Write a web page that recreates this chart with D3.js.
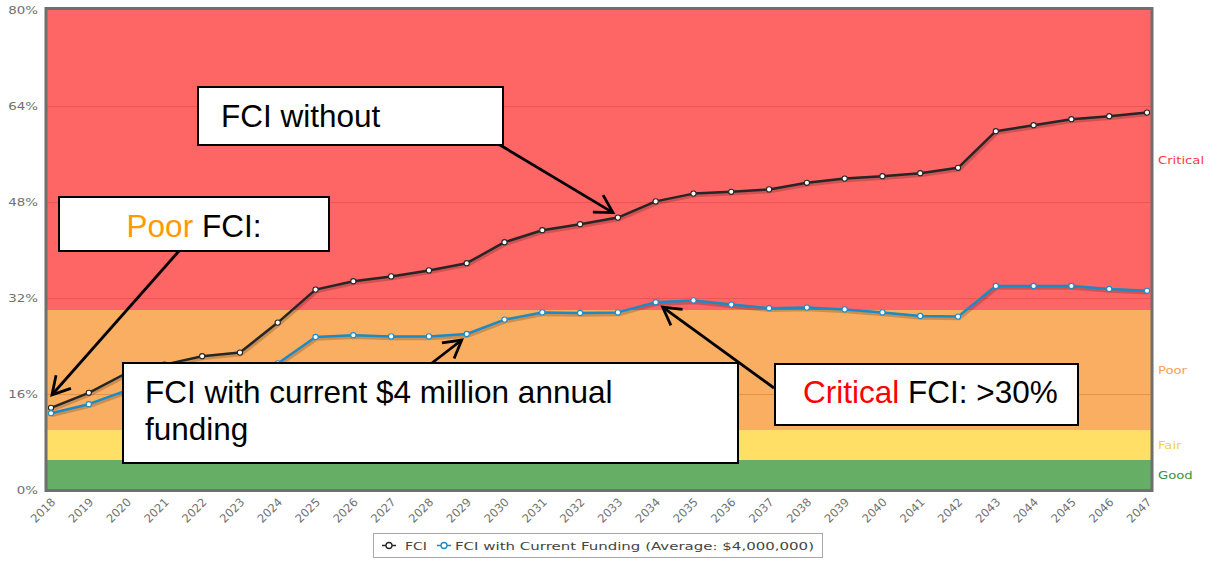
<!DOCTYPE html>
<html>
<head>
<meta charset="utf-8">
<script src="https://cdn.jsdelivr.net/npm/d3@7"></script>
<style>
  body { margin: 0; background: #fff; }
  svg { display: block; }
</style>
</head>
<body>
<div id="chart"></div>
<script>
// categories and values (in %)
const years = ["2018", "2019", "2020", "2021", "2022", "2023", "2024", "2025", "2026", "2027",
  "2028", "2029", "2030", "2031", "2032", "2033", "2034", "2035", "2036", "2037",
  "2038", "2039", "2040", "2041", "2042", "2043", "2044", "2045", "2046", "2047"];
const fci = [13.7, 16.2, 19.5, 20.9, 22.3, 22.9, 27.9, 33.4, 34.8, 35.6,
  36.6, 37.8, 41.3, 43.3, 44.3, 45.4, 48.1, 49.4, 49.7, 50.1,
  51.2, 51.9, 52.3, 52.8, 53.7, 59.8, 60.8, 61.8, 62.3, 62.9];
const fciFunded = [12.8, 14.3, 16.6, 18.2, 19.3, 20.3, 21.1, 25.5, 25.8, 25.6,
  25.6, 26.0, 28.4, 29.6, 29.5, 29.6, 31.3, 31.6, 30.9, 30.3,
  30.4, 30.1, 29.6, 29.0, 28.9, 34.0, 34.0, 34.0, 33.5, 33.2];
const yTicks = [0, 16, 32, 48, 64, 80];
const gridTicks = [16, 32, 48, 64];

const bandNames = ["Good", "Fair", "Poor", "Critical"];
const bandFrom = [0, 5, 10, 30];
const bandTo = [5, 10, 30, 80];
const bandFill = ["#66ad66", "#ffdf66", "#f9ae62", "#fe6565"];
const bandLabelColor = ["#3f8d3f", "#f6cf48", "#fb9c5c", "#f63a46"];

const seriesNames = ["FCI", "FCI with Current Funding (Average: $4,000,000)"];
const seriesColors = ["#262626", "#1b8bc6"];
const seriesData = [fci, fciFunded];

const w = 1211;
const h = 563;
const plot = { left: 47, right: 1151, top: 9, bottom: 490 };

const xScale = d3.scalePoint().domain(years).range([51, 1147]);
const yScale = d3.scaleLinear().domain([0, 80]).range([490, 10]);

const svg = d3.select("#chart").append("svg").attr("width", w).attr("height", h);

// coloured condition bands
svg.append("g").selectAll("rect")
  .data(bandNames)
  .enter()
  .append("rect")
  .attr("x", plot.left)
  .attr("width", plot.right - plot.left)
  .attr("y", (d, i) => yScale(bandTo[i]))
  .attr("height", (d, i) => yScale(bandFrom[i]) - yScale(bandTo[i]))
  .attr("fill", (d, i) => bandFill[i]);

// grid
svg.append("g").selectAll("line")
  .data(gridTicks)
  .enter()
  .append("line")
  .attr("x1", plot.left)
  .attr("x2", plot.right)
  .attr("y1", (d) => Math.round(yScale(d)) + 0.5)
  .attr("y2", (d) => Math.round(yScale(d)) + 0.5)
  .attr("stroke", "rgba(170,40,10,0.22)")
  .attr("stroke-width", 1);

// series lines
const line = d3.line()
  .x((d, i) => xScale(years[i]))
  .y((d) => yScale(d));

seriesData.forEach(function (data, s) {
  svg.append("path")
    .datum(data)
    .attr("d", line)
    .attr("fill", "none")
    .attr("stroke", "rgba(0,0,0,0.18)")
    .attr("stroke-width", 4.5)
    .attr("transform", "translate(1,1.5)");
  svg.append("path")
    .datum(data)
    .attr("d", line)
    .attr("fill", "none")
    .attr("stroke", seriesColors[s])
    .attr("stroke-width", 2.5)
    .attr("stroke-linejoin", "round");
  svg.append("g").selectAll("circle")
    .data(data)
    .enter()
    .append("circle")
    .attr("cx", (d, i) => xScale(years[i]))
    .attr("cy", (d) => yScale(d))
    .attr("r", 2.6)
    .attr("fill", "#fff")
    .attr("stroke", seriesColors[s])
    .attr("stroke-width", 1.1);
});

// frame
svg.append("rect")
  .attr("x", plot.left - 1)
  .attr("y", plot.top - 0.5)
  .attr("width", plot.right - plot.left + 2)
  .attr("height", plot.bottom - plot.top + 1)
  .attr("fill", "none")
  .attr("stroke", "#6f6f6f")
  .attr("stroke-width", 3);

// axes
const yAxis = svg.append("g")
  .attr("transform", `translate(${plot.left}, 0)`)
  .call(d3.axisLeft(yScale).tickValues(yTicks).tickFormat((d) => d + "%").tickSize(0).tickPadding(0));
yAxis.select(".domain").remove();
yAxis.selectAll("text")
  .attr("x", null)
  .attr("dy", "0.34em")
  .attr("transform", "translate(-9,0) scale(1.22,1)")
  .attr("font-family", "DejaVu Sans, Verdana, sans-serif")
  .attr("font-size", 11)
  .attr("fill", "#707070");

const xAxis = svg.append("g")
  .attr("transform", `translate(0, ${plot.bottom})`)
  .call(d3.axisBottom(xScale).tickSize(0));
xAxis.select(".domain").remove();
xAxis.selectAll("text")
  .attr("y", null)
  .attr("dy", "0.34em")
  .attr("text-anchor", "end")
  .attr("transform", "translate(2,10) rotate(-45)")
  .attr("font-family", "DejaVu Sans, Verdana, sans-serif")
  .attr("font-size", 11.5)
  .attr("fill", "#707070");

// band names on the right
svg.append("g").selectAll("text")
  .data(bandNames)
  .enter()
  .append("text")
  .attr("transform", (d, i) => `translate(1158, ${yScale((bandFrom[i] + bandTo[i]) / 2)}) scale(1.2,1)`)
  .attr("dy", "0.34em")
  .attr("font-family", "DejaVu Sans, Verdana, sans-serif")
  .attr("font-size", 11)
  .attr("fill", (d, i) => bandLabelColor[i])
  .text((d) => d);

// callout boxes
const notes = [
  { x: 198, y: 87, w: 305, h: 58, tx: 221, anchor: "start", rows: [[["FCI without", "#000"]]],
    tail: [500, 145], year: "2033", series: 0, dx: -5, dy: -5 },
  { x: 59, y: 197, w: 270, h: 54, tx: 194, anchor: "middle", rows: [[["Poor", "#ff9900"], [" FCI:", "#000"]]],
    tail: [179, 251], year: "2018", series: 0, dx: 1, dy: -13 },
  { x: 123, y: 363, w: 615, h: 100, tx: 145, anchor: "start",
    rows: [[["FCI with current $4 million annual", "#000"]], [["funding", "#000"]]],
    tail: [432, 363], year: "2029", series: 1, dx: -5, dy: 6 },
  { x: 775, y: 364, w: 303, h: 61, tx: 803, anchor: "start", rows: [[["Critical", "#ff0000"], [" FCI: >30%", "#000"]]],
    tail: [774, 388], year: "2034", series: 1, dx: 7, dy: 5 }
];
const rowBase = [[127], [237], [403, 440], [403]];

notes.forEach(function (n, k) {
  const g = svg.append("g");
  g.append("rect")
    .attr("x", n.x).attr("y", n.y).attr("width", n.w).attr("height", n.h)
    .attr("fill", "#fff").attr("stroke", "#000").attr("stroke-width", 2);
  n.rows.forEach(function (row, r) {
    const t = g.append("text")
      .attr("x", n.tx)
      .attr("y", rowBase[k][r])
      .attr("text-anchor", n.anchor)
      .attr("font-family", "Liberation Sans, Arial, sans-serif")
      .attr("font-size", 31.5);
    row.forEach(function (part) {
      t.append("tspan").attr("fill", part[1]).style("white-space", "pre").text(part[0]);
    });
  });

  const tipX = xScale(n.year) + n.dx;
  const tipY = yScale(seriesData[n.series][years.indexOf(n.year)]) + n.dy;
  const ang = Math.atan2(tipY - n.tail[1], tipX - n.tail[0]);
  const arm = 20;
  g.append("line")
    .attr("x1", n.tail[0]).attr("y1", n.tail[1])
    .attr("x2", tipX).attr("y2", tipY)
    .attr("stroke", "#000").attr("stroke-width", 2.8);
  g.append("path")
    .attr("d", `M${tipX - arm * Math.cos(ang - 0.52)},${tipY - arm * Math.sin(ang - 0.52)}` +
      `L${tipX},${tipY}` +
      `L${tipX - arm * Math.cos(ang + 0.52)},${tipY - arm * Math.sin(ang + 0.52)}`)
    .attr("fill", "none").attr("stroke", "#000").attr("stroke-width", 2.8)
    .attr("stroke-linejoin", "miter");
});

// legend
const legend = svg.append("g");
legend.append("rect")
  .attr("x", 373.5).attr("y", 533.5).attr("width", 449).attr("height", 24)
  .attr("fill", "#fff").attr("stroke", "#a8a8a8").attr("stroke-width", 1);
const legX = [382, 437];
const legTextX = [405, 455];
const legTextLen = [22, 359];
seriesNames.forEach(function (name, s) {
  legend.append("line")
    .attr("x1", legX[s]).attr("x2", legX[s] + 14)
    .attr("y1", 545.5).attr("y2", 545.5)
    .attr("stroke", seriesColors[s]).attr("stroke-width", 1.5);
  legend.append("circle")
    .attr("cx", legX[s] + 7).attr("cy", 545.5).attr("r", 3)
    .attr("fill", "#fff").attr("stroke", seriesColors[s]).attr("stroke-width", 1.3);
  legend.append("text")
    .attr("x", legTextX[s]).attr("y", 549.5)
    .attr("font-family", "DejaVu Sans, Verdana, sans-serif")
    .attr("font-size", 11)
    .attr("fill", "#444")
    .attr("textLength", legTextLen[s])
    .attr("lengthAdjust", "spacingAndGlyphs")
    .text(name);
});
</script>
</body>
</html>
